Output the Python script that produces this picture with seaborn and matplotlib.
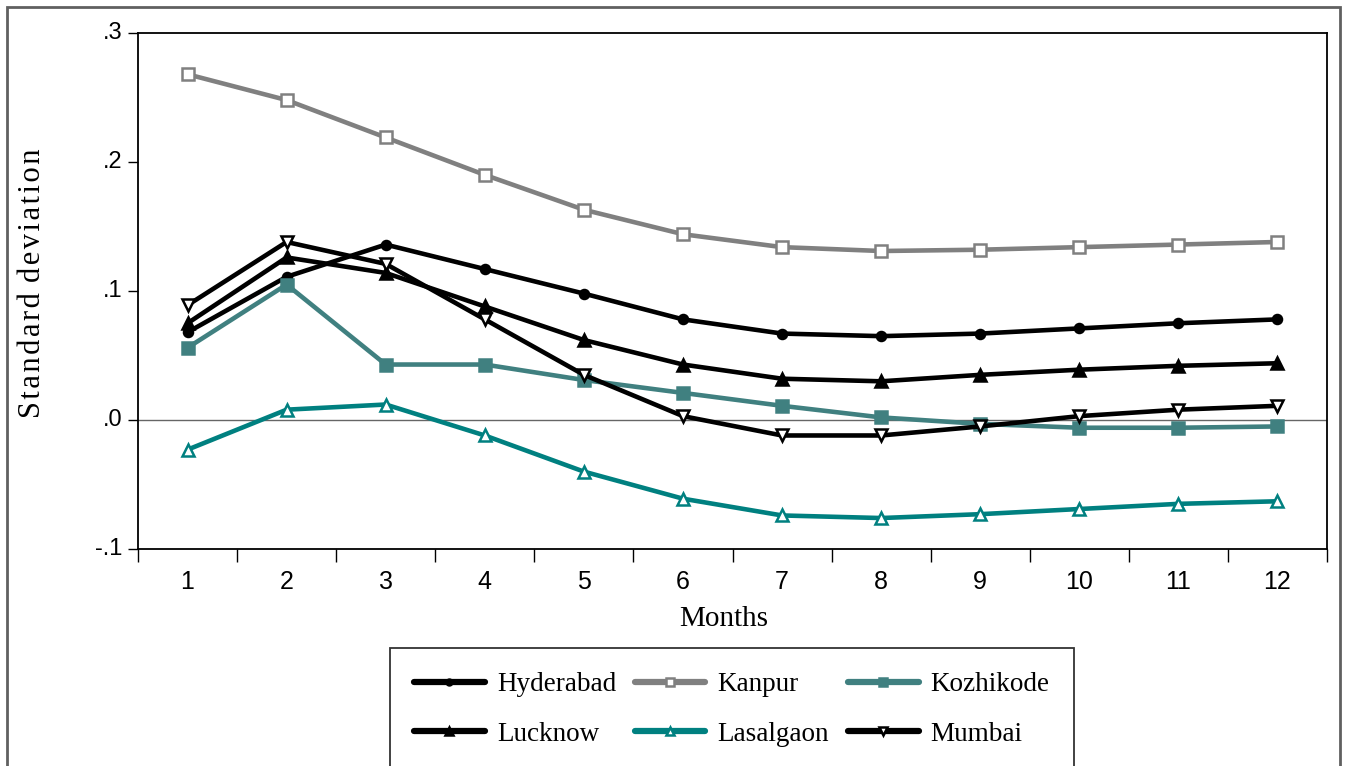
import matplotlib
matplotlib.use("Agg")
import matplotlib.pyplot as plt
import seaborn as sns
import pandas as pd
import numpy as np
from matplotlib.patches import Rectangle
from matplotlib.ticker import FixedLocator

months = list(range(1, 13))
hyderabad = [0.068, 0.111, 0.136, 0.117, 0.098, 0.078, 0.067, 0.065, 0.067, 0.071, 0.075, 0.078]
kanpur = [0.268, 0.248, 0.219, 0.190, 0.163, 0.144, 0.134, 0.131, 0.132, 0.134, 0.136, 0.138]
kozhikode = [0.056, 0.105, 0.043, 0.043, 0.031, 0.021, 0.011, 0.002, -0.003, -0.006, -0.006, -0.005]
lucknow = [0.075, 0.126, 0.114, 0.088, 0.062, 0.043, 0.032, 0.030, 0.035, 0.039, 0.042, 0.044]
lasalgaon = [-0.023, 0.008, 0.012, -0.012, -0.040, -0.061, -0.074, -0.076, -0.073, -0.069, -0.065, -0.063]
mumbai = [0.089, 0.138, 0.121, 0.078, 0.035, 0.003, -0.012, -0.012, -0.005, 0.003, 0.008, 0.011]
y_ticks = [-0.1, 0.0, 0.1, 0.2, 0.3]
y_tick_labels = ["-.1", ".0", ".1", ".2", ".3"]

series = {
    "Hyderabad": hyderabad,
    "Kanpur": kanpur,
    "Kozhikode": kozhikode,
    "Lucknow": lucknow,
    "Lasalgaon": lasalgaon,
    "Mumbai": mumbai,
}
df = pd.concat(
    [pd.DataFrame({"Months": months, "value": v, "city": k}) for k, v in series.items()],
    ignore_index=True,
)

styles = {
    "Hyderabad": dict(color="black", marker="o", ms=6.5, mfc="black", mec="black"),
    "Kanpur": dict(color="#808080", marker="s", ms=8, mfc="white", mec="#808080"),
    "Kozhikode": dict(color="#408080", marker="s", ms=8, mfc="#408080", mec="#408080"),
    "Lucknow": dict(color="black", marker="^", ms=9, mfc="black", mec="black"),
    "Lasalgaon": dict(color="#008080", marker="^", ms=9, mfc="white", mec="#008080"),
    "Mumbai": dict(color="black", marker="v", ms=9, mfc="white", mec="black"),
}

sns.set_theme(style="white")
plt.rcParams["font.family"] = ["Liberation Serif", "DejaVu Serif"]
plt.rcParams["xtick.labelsize"] = 18
plt.rcParams["ytick.labelsize"] = 17
plt.rcParams["xtick.color"] = "black"
plt.rcParams["ytick.color"] = "black"

W, H = 1345, 766
fig = plt.figure(figsize=(W / 100, H / 100), dpi=100)
ax = fig.add_axes([138 / W, 1 - 549 / H, (1327 - 138) / W, (549 - 33) / H])

ax.axhline(0, color="#666666", lw=1.0, zorder=1)

handles = {}
for city in series:
    st = styles[city]
    sub = df[df["city"] == city]
    sns.lineplot(
        data=sub, x="Months", y="value", ax=ax, color=st["color"], lw=3.3,
        marker=st["marker"], markersize=st["ms"], markerfacecolor=st["mfc"],
        markeredgecolor=st["mec"], markeredgewidth=1.8, label=city, legend=False,
        zorder=3,
    )
    handles[city] = ax.lines[-1]

ax.set_xlim(0.5, 12.5)
ax.set_ylim(-0.1, 0.3)

ax.xaxis.set_major_locator(FixedLocator(months))
ax.set_xticklabels([str(m) for m in months])
ax.xaxis.set_minor_locator(FixedLocator([m + 0.5 for m in range(0, 13)]))
ax.tick_params(axis="x", which="major", length=0, pad=15, labelsize=18)
ax.tick_params(axis="x", which="minor", length=9.4, width=1, color="black", direction="out", bottom=True)

ax.set_yticks(y_ticks)
ax.set_yticklabels(y_tick_labels)
ax.tick_params(axis="y", which="major", length=7.2, width=1, color="black", direction="out",
               left=True, pad=4, labelsize=17)

for lab in ax.get_xticklabels() + ax.get_yticklabels():
    lab.set_family(["Liberation Sans", "DejaVu Sans"])
for lab in ax.get_yticklabels():
    lab.set_verticalalignment("center")

for sp in ax.spines.values():
    sp.set_visible(True)
    sp.set_color("black")
    sp.set_linewidth(1.3)

ax.set_xlabel("")
ax.set_ylabel("")
fig.text(724 / W, 1 - 619 / H, "Months", ha="center", va="center", fontsize=21, color="black")
hs = "\u200a"
ylab = hs.join("Standard") + " " + hs + hs.join("deviation")
fig.text(33 / W, 1 - 283 / H, ylab, rotation=90,
         ha="center", va="center", fontsize=22, color="black")

order = ["Hyderabad", "Lucknow", "Kanpur", "Lasalgaon", "Kozhikode", "Mumbai"]
leg = fig.legend(
    [handles[c] for c in order], order, ncol=3,
    loc="upper center", bbox_to_anchor=(732 / W, 1 - 648 / H),
    bbox_transform=fig.transFigure, fontsize=19.5, frameon=True, fancybox=False,
    edgecolor="black", handlelength=2.6, handletextpad=0.45, columnspacing=0.7,
    labelspacing=0.9, borderpad=0.9, borderaxespad=0, markerscale=0.65,
)
leg.get_frame().set_linewidth(1.3)
for t in leg.get_texts():
    t.set_color("black")
for h in leg.legend_handles:
    h.set_linewidth(4.5)

fig.add_artist(Rectangle((7 / W, -0.02), (1340 - 7) / W, 1 - 7 / H + 0.02,
                         transform=fig.transFigure, fill=False, edgecolor="#606060", lw=2))

fig.savefig("out.png", dpi=100)
